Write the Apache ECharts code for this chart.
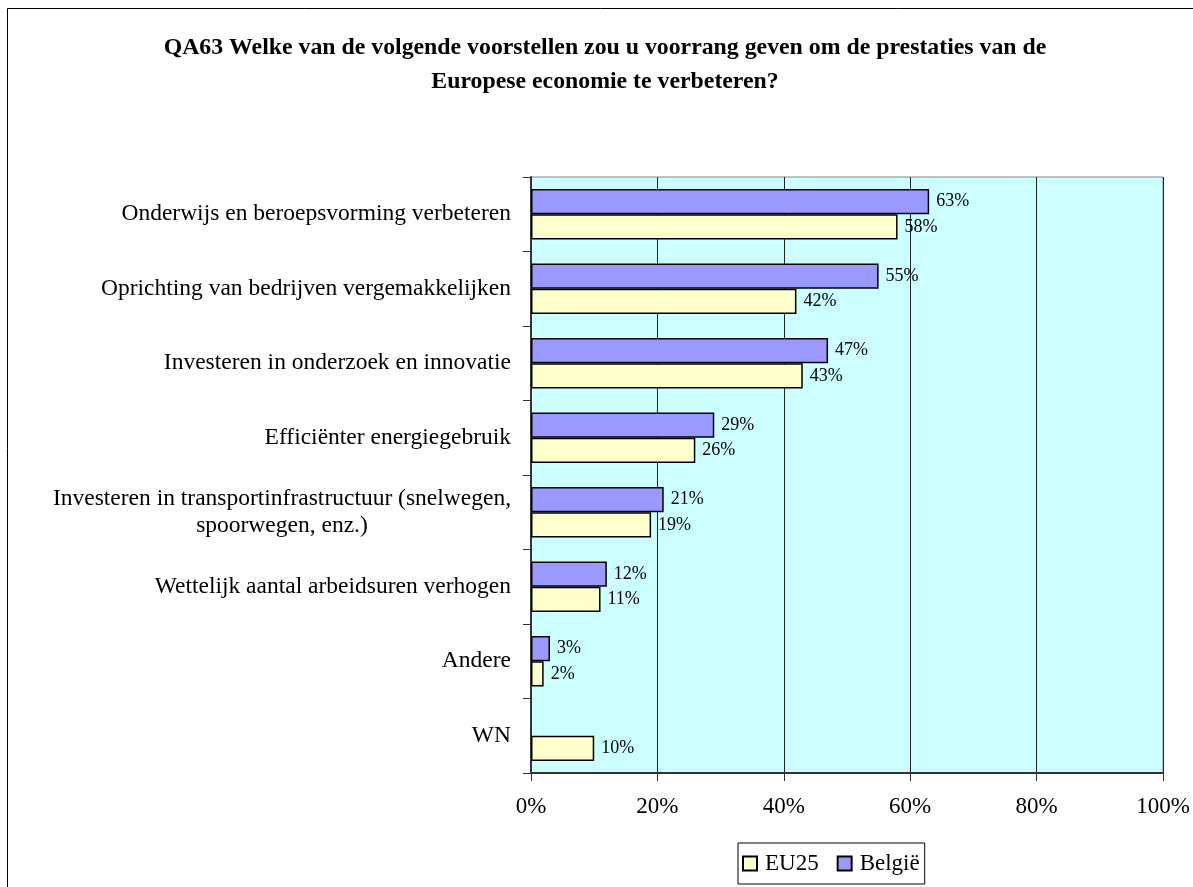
<!DOCTYPE html>
<html><head><meta charset="utf-8">
<script src="https://cdn.jsdelivr.net/npm/echarts@6/dist/echarts.min.js"></script>
<style>html,body{margin:0;padding:0;background:#fff}#c{width:1193px;height:887px}</style>
</head><body><div id="c"></div>
<script>
const titleText = 'QA63 Welke van de volgende voorstellen zou u voorrang geven om de prestaties van de\nEuropese economie te verbeteren?';
const categories = [
  'Onderwijs en beroepsvorming verbeteren',
  'Oprichting van bedrijven vergemakkelijken',
  'Investeren in onderzoek en innovatie',
  'Efficiënter energiegebruik',
  'Investeren in transportinfrastructuur (snelwegen,\nspoorwegen, enz.)',
  'Wettelijk aantal arbeidsuren verhogen',
  'Andere',
  'WN'
];
const belgie = [63, 55, 47, 29, 21, 12, 3, null];
const eu25 = [58, 42, 43, 26, 19, 11, 2, 10];
const xTicks = [0, 20, 40, 60, 80, 100];

const chart = echarts.init(document.getElementById('c'));
const serif = '"Liberation Serif","Times New Roman",serif';
const lbl = {show: true, position: 'right', distance: 7, formatter: p => p.value == null ? '' : p.value + '%', fontFamily: serif, fontSize: 18, color: '#000'};
chart.setOption({
  animation: false,
  title: {text: titleText, left: 600, textAlign: 'center', top: 26, textStyle: {fontFamily: serif, fontSize: 23.8, fontWeight: 'bold', color: '#000', lineHeight: 34}},
  graphic: [{type: 'rect', shape: {x: 7.5, y: 8.5, width: 1200, height: 900}, style: {fill: 'none', stroke: '#000', lineWidth: 1}, z: -10}],
  grid: {left: 531, right: 30, top: 177, bottom: 114, show: true, backgroundColor: '#CCFFFF', borderColor: '#888', borderWidth: 1},
  legend: {
    data: ['EU25', 'België'], left: 738, top: 843, padding: [9, 5, 9, 4], itemGap: 18,
    borderColor: '#000', borderWidth: 1, backgroundColor: '#fff', itemWidth: 14, itemHeight: 14, icon: 'rect',
    textStyle: {fontFamily: serif, fontSize: 23, color: '#000', padding: [0, 0, 0, 3]}
  },
  xAxis: {
    type: 'value', min: 0, max: 100, interval: 20,
    axisLabel: {formatter: v => xTicks.includes(v) ? v + '%' : '', fontFamily: serif, fontSize: 23, color: '#000', margin: 22},
    axisLine: {show: true, lineStyle: {color: '#333', width: 2}},
    axisTick: {show: true, length: 8, inside: false, lineStyle: {color: '#333'}},
    splitLine: {show: true, lineStyle: {color: '#222', width: 1}}
  },
  yAxis: {
    type: 'category', data: categories, inverse: true,
    axisLine: {show: true, lineStyle: {color: '#333', width: 2}},
    axisTick: {show: true, length: 8, lineStyle: {color: '#333'}},
    axisLabel: {margin: 20, fontFamily: serif, fontSize: 23.5, color: '#000', lineHeight: 27,
      formatter: v => v.split('\n').map(s => '{a|' + s + '}').join('\n'),
      rich: {a: {align: 'center', fontFamily: serif, fontSize: 23.5, color: '#000', lineHeight: 27}}}
  },
  series: [
    {name: 'België', type: 'bar', data: belgie, barGap: '0%', barCategoryGap: '32%', itemStyle: {color: '#9999FF', borderColor: '#000', borderWidth: 1.5}, label: lbl},
    {name: 'EU25', type: 'bar', data: eu25, itemStyle: {color: '#FFFFCC', borderColor: '#000', borderWidth: 1.5}, label: lbl}
  ]
});
</script></body></html>
